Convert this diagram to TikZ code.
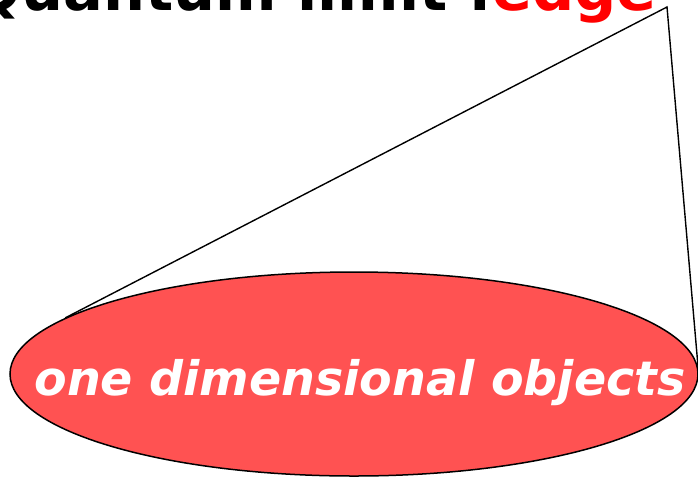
\documentclass[tikz,border=0pt]{standalone}
\usepackage{fontspec}
\usetikzlibrary{shapes.geometric}
\newfontfamily\djsans{DejaVu Sans}
\definecolor{ellred}{RGB}{255,82,82}
\definecolor{titlered}{RGB}{255,0,0}
\tikzset{
  px/.style={x=1pt,y=-1pt},
  titletext/.style={inner sep=0pt,font=\djsans\bfseries\fontsize{59}{60}\selectfont},
  blob/.style={ellipse,draw=black,line width=1.5pt,fill=ellred,inner sep=0pt,minimum width=688pt,minimum height=204pt},
  blobtext/.style={inner sep=0pt,text=white,font=\djsans\bfseries\itshape\fontsize{47.5}{50}\selectfont},
  callout/.style={draw=black,line width=1.4pt}
}
\begin{document}
\begin{tikzpicture}[px]
\useasboundingbox (0,0) rectangle (698,477);
\clip (0,0) rectangle (698,477);
\node[titletext,anchor=base east] (q) at (492,10) {Quantum limit :\ };
\node[titletext,anchor=base west,text=titlered] (edge) at (q.base east) {edge};
\coordinate (apex) at (667,7);
\node[blob] (obj) at (354,374) {};
\node[blobtext,anchor=base] (objtxt) at (360,395) {one dimensional objects};
\draw[callout] (obj.169) -- (apex) -- (obj.1);
\end{tikzpicture}
\end{document}
